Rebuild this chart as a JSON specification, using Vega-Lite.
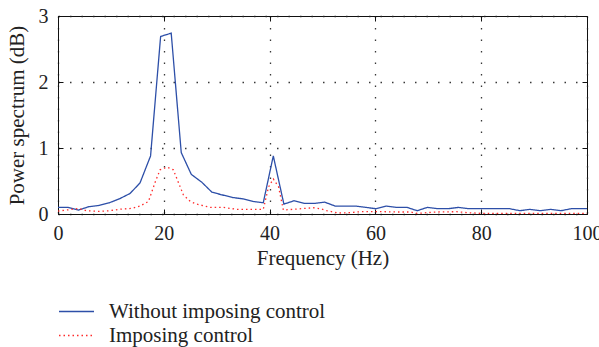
{
  "$schema": "https://vega.github.io/schema/vega-lite/v6.json",
  "autosize": "none",
  "padding": {"left": 58, "top": 16, "right": 12, "bottom": 133},
  "width": 529,
  "height": 198,
  "background": "white",
  "config": {
    "view": {"stroke": "#111", "strokeWidth": 1},
    "font": "Liberation Serif, Times New Roman, serif",
    "axis": {
      "labelFont": "Liberation Serif, Times New Roman, serif", "titleFont": "Liberation Serif, Times New Roman, serif",
      "labelFontSize": 20, "titleFontSize": 21, "titleFontWeight": "normal",
      "labelColor": "#222", "titleColor": "#222",
      "domainColor": "#111", "tickColor": "#111",
      "gridColor": "#222", "gridDash": [1.5, 10], "gridWidth": 1.3, "gridOpacity": 0.9
    },
    "legend": {"labelFont": "Liberation Serif, Times New Roman, serif", "labelFontSize": 21, "labelColor": "#222", "labelLimit": 0, "rowPadding": 0, "symbolType": "M-1.4,0H1.4", "symbolSize": 625, "symbolStrokeWidth": 1.3, "labelOffset": 19, "padding": 0}
  },
  "data": {"values": [
    {"f": 0, "p": 0.10, "s": "Without imposing control"},
    {"f": 1.9, "p": 0.10, "s": "Without imposing control"},
    {"f": 3.9, "p": 0.06, "s": "Without imposing control"},
    {"f": 5.8, "p": 0.11, "s": "Without imposing control"},
    {"f": 7.8, "p": 0.13, "s": "Without imposing control"},
    {"f": 9.7, "p": 0.17, "s": "Without imposing control"},
    {"f": 11.6, "p": 0.23, "s": "Without imposing control"},
    {"f": 13.6, "p": 0.31, "s": "Without imposing control"},
    {"f": 15.5, "p": 0.47, "s": "Without imposing control"},
    {"f": 17.5, "p": 0.88, "s": "Without imposing control"},
    {"f": 19.4, "p": 2.69, "s": "Without imposing control"},
    {"f": 21.4, "p": 2.74, "s": "Without imposing control"},
    {"f": 23.3, "p": 0.93, "s": "Without imposing control"},
    {"f": 25.2, "p": 0.60, "s": "Without imposing control"},
    {"f": 27.2, "p": 0.48, "s": "Without imposing control"},
    {"f": 29.1, "p": 0.33, "s": "Without imposing control"},
    {"f": 31.0, "p": 0.29, "s": "Without imposing control"},
    {"f": 33.0, "p": 0.25, "s": "Without imposing control"},
    {"f": 34.9, "p": 0.23, "s": "Without imposing control"},
    {"f": 36.9, "p": 0.19, "s": "Without imposing control"},
    {"f": 38.8, "p": 0.17, "s": "Without imposing control"},
    {"f": 40.7, "p": 0.88, "s": "Without imposing control"},
    {"f": 42.7, "p": 0.15, "s": "Without imposing control"},
    {"f": 44.6, "p": 0.20, "s": "Without imposing control"},
    {"f": 46.6, "p": 0.16, "s": "Without imposing control"},
    {"f": 48.5, "p": 0.16, "s": "Without imposing control"},
    {"f": 50.4, "p": 0.18, "s": "Without imposing control"},
    {"f": 52.4, "p": 0.12, "s": "Without imposing control"},
    {"f": 54.3, "p": 0.12, "s": "Without imposing control"},
    {"f": 56.3, "p": 0.12, "s": "Without imposing control"},
    {"f": 58.2, "p": 0.10, "s": "Without imposing control"},
    {"f": 60.1, "p": 0.08, "s": "Without imposing control"},
    {"f": 62.1, "p": 0.12, "s": "Without imposing control"},
    {"f": 64.0, "p": 0.10, "s": "Without imposing control"},
    {"f": 66.0, "p": 0.10, "s": "Without imposing control"},
    {"f": 67.9, "p": 0.05, "s": "Without imposing control"},
    {"f": 69.8, "p": 0.10, "s": "Without imposing control"},
    {"f": 71.8, "p": 0.08, "s": "Without imposing control"},
    {"f": 73.7, "p": 0.08, "s": "Without imposing control"},
    {"f": 75.7, "p": 0.10, "s": "Without imposing control"},
    {"f": 77.6, "p": 0.08, "s": "Without imposing control"},
    {"f": 79.5, "p": 0.08, "s": "Without imposing control"},
    {"f": 81.5, "p": 0.08, "s": "Without imposing control"},
    {"f": 83.4, "p": 0.08, "s": "Without imposing control"},
    {"f": 85.4, "p": 0.08, "s": "Without imposing control"},
    {"f": 87.3, "p": 0.05, "s": "Without imposing control"},
    {"f": 89.2, "p": 0.07, "s": "Without imposing control"},
    {"f": 91.2, "p": 0.05, "s": "Without imposing control"},
    {"f": 93.1, "p": 0.07, "s": "Without imposing control"},
    {"f": 95.1, "p": 0.05, "s": "Without imposing control"},
    {"f": 97.0, "p": 0.08, "s": "Without imposing control"},
    {"f": 98.9, "p": 0.08, "s": "Without imposing control"},
    {"f": 100, "p": 0.08, "s": "Without imposing control"},
    {"f": 0, "p": 0.045, "s": "Imposing control"},
    {"f": 2.6, "p": 0.07, "s": "Imposing control"},
    {"f": 3.9, "p": 0.085, "s": "Imposing control"},
    {"f": 5.4, "p": 0.05, "s": "Imposing control"},
    {"f": 7.6, "p": 0.04, "s": "Imposing control"},
    {"f": 9.8, "p": 0.05, "s": "Imposing control"},
    {"f": 12.0, "p": 0.075, "s": "Imposing control"},
    {"f": 13.9, "p": 0.085, "s": "Imposing control"},
    {"f": 15.5, "p": 0.12, "s": "Imposing control"},
    {"f": 17.1, "p": 0.19, "s": "Imposing control"},
    {"f": 18.4, "p": 0.49, "s": "Imposing control"},
    {"f": 19.3, "p": 0.67, "s": "Imposing control"},
    {"f": 20.6, "p": 0.71, "s": "Imposing control"},
    {"f": 21.8, "p": 0.67, "s": "Imposing control"},
    {"f": 22.7, "p": 0.49, "s": "Imposing control"},
    {"f": 23.7, "p": 0.29, "s": "Imposing control"},
    {"f": 25.0, "p": 0.19, "s": "Imposing control"},
    {"f": 26.2, "p": 0.15, "s": "Imposing control"},
    {"f": 28.8, "p": 0.10, "s": "Imposing control"},
    {"f": 31.3, "p": 0.10, "s": "Imposing control"},
    {"f": 33.8, "p": 0.07, "s": "Imposing control"},
    {"f": 36.3, "p": 0.07, "s": "Imposing control"},
    {"f": 38.8, "p": 0.07, "s": "Imposing control"},
    {"f": 39.8, "p": 0.41, "s": "Imposing control"},
    {"f": 40.7, "p": 0.53, "s": "Imposing control"},
    {"f": 41.7, "p": 0.41, "s": "Imposing control"},
    {"f": 42.6, "p": 0.06, "s": "Imposing control"},
    {"f": 45.1, "p": 0.075, "s": "Imposing control"},
    {"f": 48.3, "p": 0.095, "s": "Imposing control"},
    {"f": 49.6, "p": 0.08, "s": "Imposing control"},
    {"f": 50.8, "p": 0.05, "s": "Imposing control"},
    {"f": 53.0, "p": 0.015, "s": "Imposing control"},
    {"f": 55.3, "p": 0.02, "s": "Imposing control"},
    {"f": 57.1, "p": 0.035, "s": "Imposing control"},
    {"f": 59.7, "p": 0.035, "s": "Imposing control"},
    {"f": 61.5, "p": 0.035, "s": "Imposing control"},
    {"f": 64.1, "p": 0.03, "s": "Imposing control"},
    {"f": 66.6, "p": 0.03, "s": "Imposing control"},
    {"f": 67.9, "p": 0.01, "s": "Imposing control"},
    {"f": 71.6, "p": 0.03, "s": "Imposing control"},
    {"f": 75.4, "p": 0.035, "s": "Imposing control"},
    {"f": 77.3, "p": 0.02, "s": "Imposing control"},
    {"f": 80.0, "p": 0.01, "s": "Imposing control"},
    {"f": 90.0, "p": 0.01, "s": "Imposing control"},
    {"f": 100, "p": 0.01, "s": "Imposing control"}
  ]},
  "layer": [
    {
      "mark": {"type": "line", "strokeWidth": 1.3, "clip": true},
      "encoding": {
        "x": {"field": "f", "type": "quantitative", "title": "Frequency (Hz)",
          "scale": {"domain": [0, 100], "nice": false},
          "axis": {"values": [0, 20, 40, 60, 80, 100], "tickSize": -5, "labelPadding": 14, "titlePadding": 4, "labelFlush": false}},
        "y": {"field": "p", "type": "quantitative", "title": "Power spectrum (dB)",
          "scale": {"domain": [0, 3], "nice": false},
          "axis": {"values": [0, 1, 2, 3], "tickSize": -5, "labelPadding": 15, "titlePadding": 11, "labelFlush": false}},
        "color": {"field": "s", "type": "nominal", "sort": null,
          "scale": {"domain": ["Without imposing control", "Imposing control"], "range": ["#2d4fa8", "#ff2b2b"]},
          "legend": {"title": null, "orient": "none", "legendX": 5, "legendY": 282}},
        "strokeDash": {"field": "s", "type": "nominal", "sort": null,
          "scale": {"domain": ["Without imposing control", "Imposing control"], "range": [[1, 0], [1.5, 3]]},
          "legend": {"title": null, "orient": "none", "legendX": 5, "legendY": 282}}
      }
    },
    {
      "mark": {"type": "line", "opacity": 0},
      "encoding": {
        "x": {"field": "f", "type": "quantitative", "scale": {"domain": [0, 100], "nice": false},
          "axis": {"orient": "top", "values": [0, 20, 40, 60, 80, 100], "tickSize": -5, "labels": false, "title": null, "grid": false, "domain": false}},
        "y": {"field": "p", "type": "quantitative", "scale": {"domain": [0, 3], "nice": false},
          "axis": {"orient": "right", "values": [0, 1, 2, 3], "tickSize": -5, "labels": false, "title": null, "grid": false, "domain": false}},
        "detail": {"field": "s", "type": "nominal"}
      }
    }
  ],
  "resolve": {"axis": {"x": "independent", "y": "independent"}}
}
